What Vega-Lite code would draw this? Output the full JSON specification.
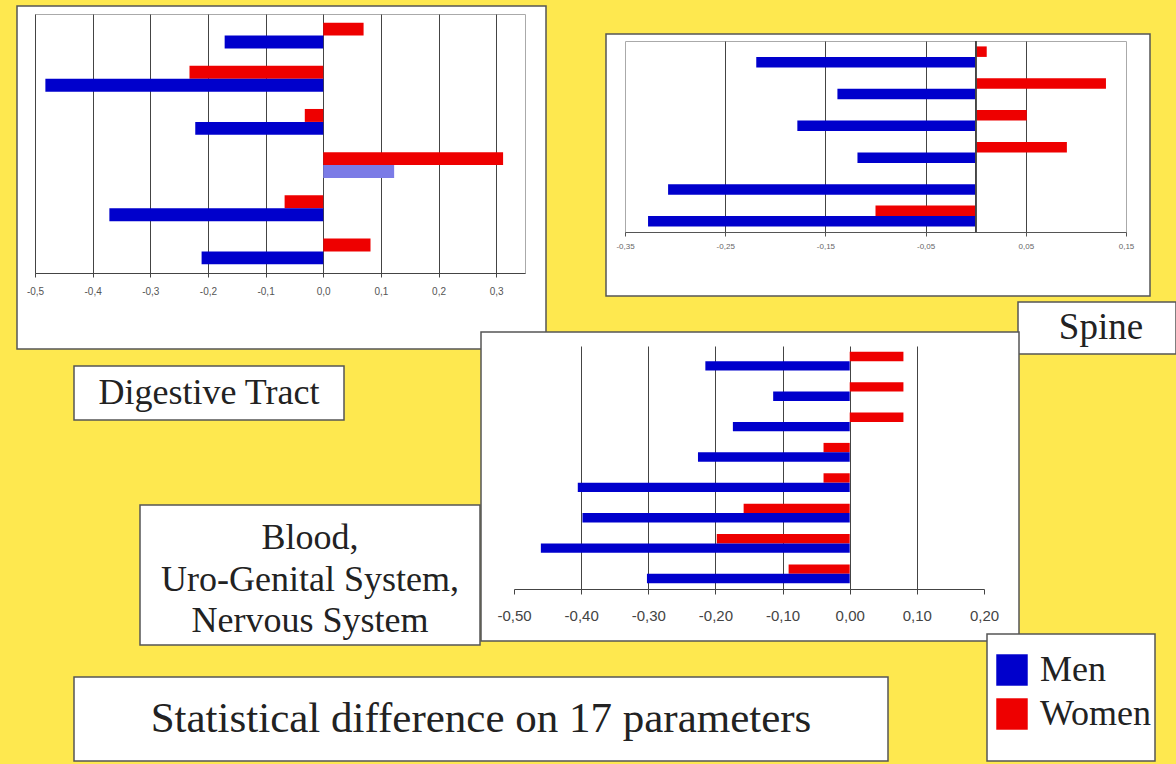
{
  "$schema": "https://vega.github.io/schema/vega-lite/v6.json",
  "background": "#fee84f",
  "padding": {"left": 16, "top": 5, "right": 0, "bottom": 2},
  "config": {
    "view": {"stroke": null},
    "locale": {"number": {"decimal": ",", "thousands": ".", "grouping": [3], "currency": ["", " €"], "minus": "-"}}
  },
  "datasets": {
    "dig": [
      {"param": "1", "sex": "Women", "series": "Women", "value": 0.070},
      {"param": "1", "sex": "Men", "series": "Men", "value": -0.171},
      {"param": "2", "sex": "Women", "series": "Women", "value": -0.232},
      {"param": "2", "sex": "Men", "series": "Men", "value": -0.482},
      {"param": "3", "sex": "Women", "series": "Women", "value": -0.032},
      {"param": "3", "sex": "Men", "series": "Men", "value": -0.222},
      {"param": "4", "sex": "Women", "series": "Women", "value": 0.312},
      {"param": "4", "sex": "Men", "series": "Men (n.s.)", "value": 0.123},
      {"param": "5", "sex": "Women", "series": "Women", "value": -0.067},
      {"param": "5", "sex": "Men", "series": "Men", "value": -0.371},
      {"param": "6", "sex": "Women", "series": "Women", "value": 0.082},
      {"param": "6", "sex": "Men", "series": "Men", "value": -0.211}
    ],
    "spine": [
      {"param": "1", "sex": "Women", "series": "Women", "value": 0.011},
      {"param": "1", "sex": "Men", "series": "Men", "value": -0.219},
      {"param": "2", "sex": "Women", "series": "Women", "value": 0.130},
      {"param": "2", "sex": "Men", "series": "Men", "value": -0.138},
      {"param": "3", "sex": "Women", "series": "Women", "value": 0.051},
      {"param": "3", "sex": "Men", "series": "Men", "value": -0.178},
      {"param": "4", "sex": "Women", "series": "Women", "value": 0.091},
      {"param": "4", "sex": "Men", "series": "Men", "value": -0.118},
      {"param": "5", "sex": "Women", "series": "Women", "value": 0.0},
      {"param": "5", "sex": "Men", "series": "Men", "value": -0.307},
      {"param": "6", "sex": "Women", "series": "Women", "value": -0.100},
      {"param": "6", "sex": "Men", "series": "Men", "value": -0.327}
    ],
    "blood": [
      {"param": "1", "sex": "Women", "series": "Women", "value": 0.080},
      {"param": "1", "sex": "Men", "series": "Men", "value": -0.215},
      {"param": "2", "sex": "Women", "series": "Women", "value": 0.080},
      {"param": "2", "sex": "Men", "series": "Men", "value": -0.114},
      {"param": "3", "sex": "Women", "series": "Women", "value": 0.080},
      {"param": "3", "sex": "Men", "series": "Men", "value": -0.174},
      {"param": "4", "sex": "Women", "series": "Women", "value": -0.039},
      {"param": "4", "sex": "Men", "series": "Men", "value": -0.226},
      {"param": "5", "sex": "Women", "series": "Women", "value": -0.039},
      {"param": "5", "sex": "Men", "series": "Men", "value": -0.405},
      {"param": "6", "sex": "Women", "series": "Women", "value": -0.158},
      {"param": "6", "sex": "Men", "series": "Men", "value": -0.398},
      {"param": "7", "sex": "Women", "series": "Women", "value": -0.198},
      {"param": "7", "sex": "Men", "series": "Men", "value": -0.460},
      {"param": "8", "sex": "Women", "series": "Women", "value": -0.091},
      {"param": "8", "sex": "Men", "series": "Men", "value": -0.302}
    ],
    "legendrows": [{"sex": "Men"}, {"sex": "Women"}],
    "blank": []
  },
  "resolve": {"scale": {"color": "independent", "yOffset": "independent"}, "legend": {"color": "independent"}},
  "columns": 1, "align": "none", "spacing": -24,
  "concat": [
    {
      "resolve": {"scale": {"color": "independent", "yOffset": "independent"}, "legend": {"color": "independent"}},
      "columns": 2, "align": "none", "spacing": 58,
      "concat": [
        {
          "resolve": {"scale": {"color": "independent", "yOffset": "independent"}, "legend": {"color": "independent"}},
          "columns": 1, "align": "none", "spacing": -337,
          "concat": [
            {"width": 529, "height": 343, "view": {"fill": "white", "stroke": "#555", "strokeWidth": 1.5}, "data": {"name": "blank"}, "mark": {"type": "text", "text": ""}, "encoding": {}},
            {
              "resolve": {"scale": {"color": "independent", "yOffset": "independent"}, "legend": {"color": "independent"}},
              "columns": 2, "align": "none", "spacing": 0,
              "concat": [
                {"width": 8, "height": 1, "data": {"name": "blank"}, "mark": {"type": "text", "text": ""}, "encoding": {}},
                {
                  "width": 490, "height": 259,
                  "view": {"stroke": "#aaa", "strokeWidth": 1},
                  "data": {"name": "dig"},
                  "mark": {"type": "bar"},
                  "encoding": {
                    "y": {"field": "param", "type": "ordinal", "scale": {"paddingInner": 0.4, "paddingOuter": 0.2}, "axis": null},
                    "yOffset": {"field": "sex", "type": "nominal", "sort": ["Women", "Men"]},
                    "x": {"field": "value", "type": "quantitative", "scale": {"domain": [-0.5, 0.35], "nice": false, "zero": false}, "axis": {"orient": "bottom", "values": [-0.5, -0.4, -0.3, -0.2, -0.1, 0, 0.1, 0.2, 0.3], "format": ".1f", "grid": true, "gridColor": "#444", "gridWidth": 1, "domainColor": "#444", "tickColor": "#444", "tickSize": 4, "labelPadding": 9, "labelFont": "Liberation Sans", "labelFontSize": 10, "labelColor": "#555", "labelFlush": false, "labelOverlap": false, "title": null}},
                    "color": {"field": "series", "type": "nominal", "scale": {"domain": ["Men", "Women", "Men (n.s.)"], "range": ["#0000cc", "#ee0000", "#7b7be6"]}, "legend": null}
                  }
                }
              ]
            }
          ]
        },
        {
          "resolve": {"scale": {"color": "independent", "yOffset": "independent"}, "legend": {"color": "independent"}},
          "columns": 1, "align": "none", "spacing": 4,
          "concat": [
            {"width": 1, "height": 23, "data": {"name": "blank"}, "mark": {"type": "text", "text": ""}, "encoding": {}},
            {
              "resolve": {"scale": {"color": "independent", "yOffset": "independent"}, "legend": {"color": "independent"}},
              "columns": 1, "align": "none", "spacing": -257,
              "concat": [
                {"width": 544, "height": 262, "view": {"fill": "white", "stroke": "#555", "strokeWidth": 1.5}, "data": {"name": "blank"}, "mark": {"type": "text", "text": ""}, "encoding": {}},
                {
                  "resolve": {"scale": {"color": "independent", "yOffset": "independent"}, "legend": {"color": "independent"}},
                  "columns": 2, "align": "none", "spacing": 0,
                  "concat": [
                    {"width": 9, "height": 1, "data": {"name": "blank"}, "mark": {"type": "text", "text": ""}, "encoding": {}},
                    {
                      "width": 501, "height": 191,
                      "view": {"stroke": "#aaa", "strokeWidth": 1},
                      "data": {"name": "spine"},
                      "layer": [
                        {
                          "mark": {"type": "bar"},
                          "encoding": {
                            "y": {"field": "param", "type": "ordinal", "scale": {"paddingInner": 0.34, "paddingOuter": 0.17}, "axis": null},
                            "yOffset": {"field": "sex", "type": "nominal", "sort": ["Women", "Men"]},
                            "x": {"field": "value", "type": "quantitative", "scale": {"domain": [-0.35, 0.15], "nice": false, "zero": false}, "axis": {"orient": "bottom", "values": [-0.35, -0.25, -0.15, -0.05, 0.05, 0.15], "format": ".2f", "grid": true, "gridColor": "#444", "gridOpacity": {"condition": {"test": "datum.value < -0.3 || datum.value > 0.1", "value": 0}, "value": 1}, "gridWidth": 1, "domainColor": "#555", "tickColor": "#555", "tickSize": 4, "labelPadding": 6, "labelFont": "Liberation Sans", "labelFontSize": 8, "labelColor": "#666", "labelFlush": false, "labelOverlap": false, "title": null}},
                            "color": {"field": "series", "type": "nominal", "scale": {"domain": ["Men", "Women", "Men (n.s.)"], "range": ["#0000cc", "#ee0000", "#7b7be6"]}, "legend": null}
                          }
                        },
                        {
                          "mark": {"type": "rule", "color": "#444", "strokeWidth": 1},
                          "encoding": {"x": {"datum": 0}}
                        }
                      ]
                    }
                  ]
                }
              ]
            },
            {
              "columns": 2, "align": "none", "spacing": 0,
              "concat": [
                {"width": 411, "height": 1, "data": {"name": "blank"}, "mark": {"type": "text", "text": ""}, "encoding": {}},
                {
                  "width": 158, "height": 52,
                  "view": {"fill": "white", "stroke": "#555", "strokeWidth": 1.5},
                  "data": {"values": [{"label": "Spine"}]},
                  "mark": {"type": "text", "font": "Liberation Serif", "fontSize": 37, "color": "#222", "dx": 4},
                  "encoding": {"text": {"field": "label", "type": "nominal"}}
                }
              ]
            }
          ]
        }
      ]
    },
    {
      "resolve": {"scale": {"color": "independent", "yOffset": "independent"}, "legend": {"color": "independent"}},
      "columns": 1, "align": "none", "spacing": -86,
      "concat": [
        {
          "resolve": {"scale": {"color": "independent", "yOffset": "independent"}, "legend": {"color": "independent"}},
          "columns": 2, "align": "none", "spacing": -34,
          "concat": [
            {
              "resolve": {"scale": {"color": "independent", "yOffset": "independent"}, "legend": {"color": "independent"}},
              "columns": 2, "align": "none", "spacing": -1,
              "concat": [
                {
                  "columns": 1, "align": "none", "spacing": 0,
                  "concat": [
                    {"width": 1, "height": 33, "data": {"name": "blank"}, "mark": {"type": "text", "text": ""}, "encoding": {}},
                    {
                      "columns": 2, "align": "none", "spacing": 0,
                      "concat": [
                        {"width": 56, "height": 1, "data": {"name": "blank"}, "mark": {"type": "text", "text": ""}, "encoding": {}},
                        {
                          "width": 270, "height": 54,
                          "view": {"fill": "white", "stroke": "#555", "strokeWidth": 1.5},
                          "data": {"values": [{"label": "Digestive Tract"}]},
                          "mark": {"type": "text", "font": "Liberation Serif", "fontSize": 36, "color": "#222"},
                          "encoding": {"text": {"field": "label", "type": "nominal"}}
                        }
                      ]
                    },
                    {"width": 1, "height": 83, "data": {"name": "blank"}, "mark": {"type": "text", "text": ""}, "encoding": {}},
                    {
                      "columns": 2, "align": "none", "spacing": 0,
                      "concat": [
                        {"width": 122, "height": 1, "data": {"name": "blank"}, "mark": {"type": "text", "text": ""}, "encoding": {}},
                        {
                          "width": 340, "height": 140,
                          "view": {"fill": "white", "stroke": "#555", "strokeWidth": 1.5},
                          "data": {"values": [{"label": "Blood,\nUro-Genital System,\nNervous System"}]},
                          "mark": {"type": "text", "font": "Liberation Serif", "fontSize": 36, "color": "#222", "lineBreak": "\n", "lineHeight": 41.5, "dy": -37},
                          "encoding": {"text": {"field": "label", "type": "nominal"}}
                        }
                      ]
                    }
                  ]
                },
                {
                  "resolve": {"scale": {"color": "independent", "yOffset": "independent"}, "legend": {"color": "independent"}},
                  "columns": 1, "align": "none", "spacing": -296,
                  "concat": [
                    {"width": 538, "height": 309, "view": {"fill": "white", "stroke": "#555", "strokeWidth": 1.5}, "data": {"name": "blank"}, "mark": {"type": "text", "text": ""}, "encoding": {}},
                    {
                      "resolve": {"scale": {"color": "independent", "yOffset": "independent"}, "legend": {"color": "independent"}},
                      "columns": 2, "align": "none", "spacing": 0,
                      "concat": [
                        {"width": 15, "height": 1, "data": {"name": "blank"}, "mark": {"type": "text", "text": ""}, "encoding": {}},
                        {
                          "width": 470, "height": 243,
                          "data": {"name": "blood"},
                          "mark": {"type": "bar"},
                          "encoding": {
                            "y": {"field": "param", "type": "ordinal", "scale": {"paddingInner": 0.38, "paddingOuter": 0.19}, "axis": null},
                            "yOffset": {"field": "sex", "type": "nominal", "sort": ["Women", "Men"]},
                            "x": {"field": "value", "type": "quantitative", "scale": {"domain": [-0.5, 0.2], "nice": false, "zero": false}, "axis": {"orient": "bottom", "values": [-0.5, -0.4, -0.3, -0.2, -0.1, 0, 0.1, 0.2], "format": ".2f", "grid": true, "gridColor": "#444", "gridOpacity": {"condition": {"test": "datum.value < -0.45 || datum.value > 0.15", "value": 0}, "value": 1}, "gridWidth": 1, "domainColor": "#444", "tickColor": "#444", "tickSize": 5, "labelPadding": 14, "labelFont": "Liberation Sans", "labelFontSize": 15, "labelColor": "#444", "labelFlush": false, "labelOverlap": false, "title": null}},
                            "color": {"field": "series", "type": "nominal", "scale": {"domain": ["Men", "Women", "Men (n.s.)"], "range": ["#0000cc", "#ee0000", "#7b7be6"]}, "legend": null}
                          }
                        }
                      ]
                    }
                  ]
                }
              ]
            },
            {
              "resolve": {"scale": {"color": "independent", "yOffset": "independent"}, "legend": {"color": "independent"}},
              "columns": 1, "align": "none", "spacing": 0,
              "concat": [
                {"width": 1, "height": 301, "data": {"name": "blank"}, "mark": {"type": "text", "text": ""}, "encoding": {}},
                {
                  "width": 168, "height": 127,
                  "view": {"fill": "white", "stroke": "#555", "strokeWidth": 1.5},
                  "data": {"name": "legendrows"},
                  "mark": {"type": "square", "opacity": 0},
                  "encoding": {
                    "color": {"field": "sex", "type": "nominal", "sort": ["Men", "Women"], "scale": {"domain": ["Men", "Women"], "range": ["#0000cc", "#ee0000"]}, "legend": {"orient": "none", "legendX": 7, "legendY": 18, "direction": "vertical", "title": null, "padding": 0, "symbolType": "square", "symbolSize": 990, "symbolStrokeWidth": 0, "symbolOpacity": 1, "labelFont": "Liberation Serif", "labelFontSize": 36, "labelColor": "#222", "labelOffset": 10, "rowPadding": 8}}
                  }
                }
              ]
            }
          ]
        },
        {
          "columns": 2, "align": "none", "spacing": 0,
          "concat": [
            {"width": 56, "height": 1, "data": {"name": "blank"}, "mark": {"type": "text", "text": ""}, "encoding": {}},
            {
              "width": 814, "height": 84,
              "view": {"fill": "white", "stroke": "#555", "strokeWidth": 1.5},
              "data": {"values": [{"label": "Statistical difference on 17 parameters"}]},
              "mark": {"type": "text", "font": "Liberation Serif", "fontSize": 43, "color": "#222"},
              "encoding": {"text": {"field": "label", "type": "nominal"}}
            }
          ]
        }
      ]
    }
  ]
}
